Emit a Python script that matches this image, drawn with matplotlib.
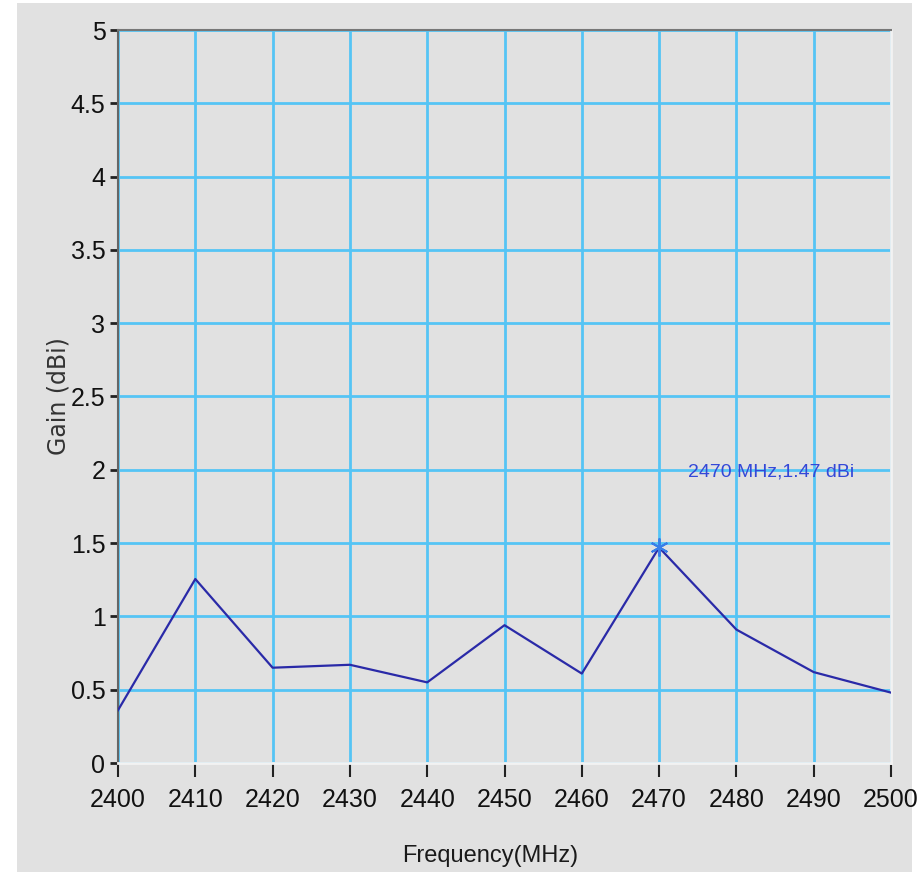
import matplotlib.pyplot as plt
from matplotlib.patches import Rectangle

# Data
freq = [2400, 2410, 2420, 2425, 2430, 2440, 2450, 2460, 2470, 2480, 2490, 2500]
gain = [0.36, 1.255, 0.65, 0.66, 0.67, 0.55, 0.94, 0.61, 1.47, 0.91, 0.62, 0.48]
peak_freq = 2470
peak_gain = 1.47
xticks = list(range(2400, 2501, 10))
yticks = [0, 0.5, 1, 1.5, 2, 2.5, 3, 3.5, 4, 4.5, 5]
ytick_labels = ['0', '0.5', '1', '1.5', '2', '2.5', '3', '3.5', '4', '4.5', '5']

narrow = ['Liberation Sans Narrow', 'Liberation Sans', 'DejaVu Sans']
bg = '#e1e1e1'
grid_blue = '#55c4f5'

fig = plt.figure(figsize=(9.24, 8.72), dpi=100, facecolor='white')
fig.patches.append(Rectangle((17 / 924, 0), (912 - 17) / 924, 1 - 3 / 872,
                             transform=fig.transFigure, facecolor=bg,
                             edgecolor='none', zorder=-10))

ax = fig.add_axes([118 / 924, 109 / 872, (891 - 118) / 924, (763 - 30) / 872])
ax.set_facecolor(bg)

ax.plot(freq, gain, color='#2a2aa8', linewidth=1.6, zorder=3)
ax.plot([peak_freq], [peak_gain], marker=(6, 2, 0), markersize=13,
        color='#3a7ee8', markeredgewidth=1.4, zorder=4)
ax.text(2473.7, 1.985, '%d MHz,%.2f dBi' % (peak_freq, peak_gain),
        color='#3448d8', fontsize=14, family=narrow, va='center', ha='left')

ax.set_xlim(2400, 2500)
ax.set_ylim(0, 5)
ax.set_xticks(xticks)
ax.set_yticks(yticks)
ax.set_yticklabels(ytick_labels)
ax.grid(True, color=grid_blue, linewidth=2, zorder=1)
ax.set_axisbelow(True)

for lab in ax.get_xticklabels() + ax.get_yticklabels():
    lab.set_family(narrow)
    lab.set_fontsize(18)
    lab.set_color('#111111')

ax.tick_params(axis='y', direction='out', length=6, width=2, color='#222222', pad=3)
ax.tick_params(axis='x', direction='out', length=10, width=1.5, color='#222222', pad=8)

ax.spines['top'].set_color('#777777')
ax.spines['left'].set_color('#666666')
ax.spines['top'].set_linewidth(1.5)
ax.spines['left'].set_linewidth(1.5)
ax.spines['right'].set_color('#f2f2f2')
ax.spines['bottom'].set_color('#f2f2f2')
ax.spines['right'].set_linewidth(2)
ax.spines['bottom'].set_linewidth(2)

ax.set_xlabel('Frequency(MHz)', fontsize=17, family=narrow, color='#1a1a1a')
ax.xaxis.set_label_coords(0.481, -0.112)
ax.set_ylabel('Gain (dBi)', fontsize=17, color='#333333')
ax.yaxis.set_label_coords(-0.062, 0.5)

plt.savefig('out.png', dpi=100, facecolor='white')
